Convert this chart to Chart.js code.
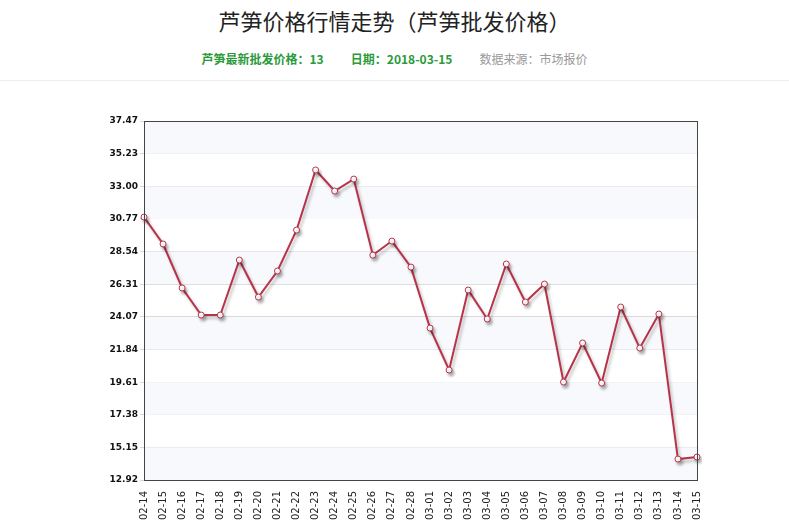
<!DOCTYPE html>
<html><head><meta charset="utf-8">
<script src="https://cdn.jsdelivr.net/npm/chart.js@4/dist/chart.umd.min.js"></script>
<style>
body{margin:0;width:789px;height:526px;overflow:hidden;background:#fff;font-family:"Noto Sans CJK SC",sans-serif;position:relative}
#t{position:absolute;top:4px;width:789px;text-align:center;font-size:22px;color:#222}
#s{position:absolute;top:50px;width:789px;text-align:center;font-size:12px;font-weight:bold}
#hr{position:absolute;top:80px;left:0;width:789px;border-top:1px solid #eee}
canvas{position:absolute;left:0;top:0}
</style></head><body>
<div id="t">芦笋价格行情走势（芦笋批发价格）</div>
<div id="s"><span style="color:#2a9a3a">芦笋最新批发价格：13</span>&nbsp;&nbsp;&nbsp;&nbsp;&nbsp;&nbsp;&nbsp;&nbsp;&nbsp;&nbsp;<span style="color:#2a9a3a">日期：2018-03-15</span>&nbsp;&nbsp;&nbsp;&nbsp;&nbsp;&nbsp;&nbsp;&nbsp;&nbsp;&nbsp;<span style="color:#999;font-weight:normal">数据来源：市场报价</span></div>
<div id="hr"></div>
<canvas id="c" width="789" height="526"></canvas>
<script>
const categories=["02-14","02-15","02-16","02-17","02-18","02-19","02-20","02-21","02-22","02-23","02-24","02-25","02-26","02-27","02-28","03-01","03-02","03-03","03-04","03-05","03-06","03-07","03-08","03-09","03-10","03-11","03-12","03-13","03-14","03-15"];
const prices=[30.9,29.06,26.05,24.2,24.2,27.96,25.43,27.21,30.01,34.12,32.68,33.5,28.3,29.26,27.48,23.31,20.44,25.91,23.93,27.69,25.09,26.32,19.62,22.29,19.55,24.75,21.94,24.27,14.35,14.49];
const yTicks=[12.92,15.15,17.38,19.61,21.84,24.07,26.31,28.54,30.77,33.00,35.23,37.47];
const bands={id:'bands',beforeDatasetsDraw(c){const ctx=c.ctx,y=c.scales.y,a=c.chartArea;ctx.save();ctx.fillStyle='#f7f9fc';for(let i=0;i<yTicks.length-1;i+=2){const y1=y.getPixelForValue(yTicks[i+1]),y0=y.getPixelForValue(yTicks[i]);ctx.fillRect(a.left,y1,a.right-a.left,y0-y1);}ctx.restore();},
afterDraw(c){const ctx=c.ctx,a=c.chartArea;ctx.save();ctx.strokeStyle='#444';ctx.lineWidth=1;ctx.strokeRect(a.left+0.5,a.top+0.5,a.right-a.left,a.bottom-a.top);ctx.restore();}};
const shadow={id:'shadow',beforeDatasetDraw(c){const ctx=c.ctx;ctx.save();ctx.shadowColor='rgba(0,0,0,0.25)';ctx.shadowOffsetX=2;ctx.shadowOffsetY=3;ctx.shadowBlur=3;},afterDatasetDraw(c){c.ctx.restore();}};
new Chart(document.getElementById('c'),{type:'line',
data:{labels:categories,datasets:[{data:prices,borderColor:'#b8334a',borderWidth:2,tension:0,pointRadius:3,pointBackgroundColor:'#fff',pointBorderColor:'#b8334a',pointBorderWidth:1}]},
options:{responsive:false,animation:false,layout:{padding:{top:121,right:92,left:0,bottom:0}},
plugins:{legend:{display:false},tooltip:{enabled:false}},
scales:{
x:{offset:false,grid:{display:false},border:{color:'#444'},ticks:{color:'#222',font:{size:10,family:'DejaVu Sans'},maxRotation:90,minRotation:90,autoSkip:false},afterFit(s){s.height=46;}},
y:{min:12.92,max:37.47,afterBuildTicks(s){s.ticks=yTicks.map(v=>({value:v}));},grid:{color:'#d8d8d8',tickLength:4},border:{color:'#444'},ticks:{color:'#111',padding:2,font:{size:9,weight:'bold',family:'DejaVu Sans'},callback:v=>v.toFixed(2)},afterFit(s){s.width=144;}}}},
plugins:[bands,shadow]});
</script></body></html>
